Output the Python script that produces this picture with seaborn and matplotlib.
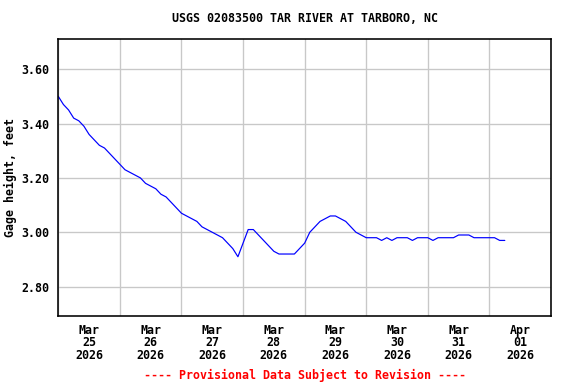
import pandas as pd
import seaborn as sns
import matplotlib
matplotlib.use("Agg")
import matplotlib.pyplot as plt
import matplotlib.dates as mdates

# gage readings every 2 hours starting Mar 25 2026 00:00
start_time = "2026-03-25 00:00"
step_hours = 2
gage_height = [
    3.50, 3.47, 3.45, 3.42, 3.41, 3.39, 3.36, 3.34, 3.32, 3.31,
    3.29, 3.27, 3.25, 3.23, 3.22, 3.21, 3.20, 3.18, 3.17, 3.16,
    3.14, 3.13, 3.11, 3.09, 3.07, 3.06, 3.05, 3.04, 3.02, 3.01,
    3.00, 2.99, 2.98, 2.96, 2.94, 2.91, 2.96, 3.01, 3.01, 2.99,
    2.97, 2.95, 2.93, 2.92, 2.92, 2.92, 2.92, 2.94, 2.96, 3.00,
    3.02, 3.04, 3.05, 3.06, 3.06, 3.05, 3.04, 3.02, 3.00, 2.99,
    2.98, 2.98, 2.98, 2.97, 2.98, 2.97, 2.98, 2.98, 2.98, 2.97,
    2.98, 2.98, 2.98, 2.97, 2.98, 2.98, 2.98, 2.98, 2.99, 2.99,
    2.99, 2.98, 2.98, 2.98, 2.98, 2.98, 2.97, 2.97,
]
y_ticks = [2.80, 3.00, 3.20, 3.40, 3.60]

title = "USGS 02083500 TAR RIVER AT TARBORO, NC"
ylabel = "Gage height, feet"
footer = "---- Provisional Data Subject to Revision ----"

times = pd.date_range(start_time, periods=len(gage_height), freq=f"{step_hours}h")
df = pd.DataFrame({"time": times, "height": gage_height})

sns.set_style("white")
plt.rcParams["font.family"] = ["DejaVu Sans Mono"]
plt.rcParams["font.weight"] = "bold"
plt.rcParams["text.color"] = "black"
plt.rcParams["axes.labelcolor"] = "black"

fs = 8.7  # every text on the USGS graph uses the same mono size

fig = plt.figure(figsize=(6, 4), dpi=96)
ax = fig.add_axes([0.1012, 0.1771, 0.9566 - 0.1012, 0.8977 - 0.1771])

sns.lineplot(data=df, x="time", y="height", color="#0000FF", linewidth=0.9, ax=ax)

ax.set_xlim(pd.Timestamp("2026-03-25"), pd.Timestamp("2026-04-02"))
ax.set_ylim(2.692, 3.71)

# labels sit under each day at noon, grid lines at midnight
ax.xaxis.set_major_locator(mdates.HourLocator(byhour=12))
ax.xaxis.set_major_formatter(mdates.DateFormatter("%b\n%d\n%Y"))
ax.xaxis.set_minor_locator(mdates.DayLocator())
ax.set_yticks(y_ticks)
ax.set_yticklabels([f"{v:.2f}" for v in y_ticks])

ax.grid(False)
ax.grid(which="minor", axis="x", color="#C8C8C8", linewidth=1)
ax.grid(which="major", axis="y", color="#C8C8C8", linewidth=1)
ax.set_axisbelow(True)

ax.tick_params(axis="both", which="both", length=0, labelsize=fs, colors="black")
ax.tick_params(axis="x", pad=6)
ax.tick_params(axis="y", pad=7)
for lbl in ax.get_xticklabels():
    lbl.set_linespacing(0.95)
    lbl.set_fontweight("bold")
for lbl in ax.get_yticklabels():
    lbl.set_fontweight("bold")

for s in ax.spines.values():
    s.set_color("black")
    s.set_linewidth(1.2)

ax.set_xlabel("")
ax.set_ylabel(ylabel, fontsize=fs, fontweight="bold", color="black", labelpad=3)

fig.text(0.530, 0.951, title, ha="center", va="center", fontsize=fs,
         fontweight="bold", color="black")
fig.text(0.530, 0.023, footer, ha="center", va="center", fontsize=fs,
         fontweight="bold", color="#FF0000")

fig.savefig("out.png", dpi=96)
